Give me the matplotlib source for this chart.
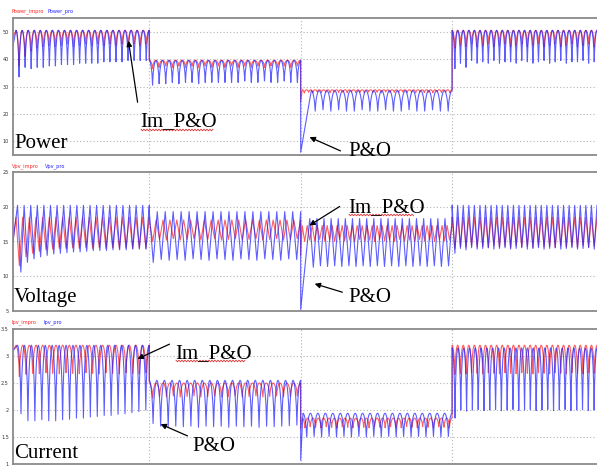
import numpy as np
import matplotlib
matplotlib.use("Agg")
import matplotlib.pyplot as plt
from matplotlib.lines import Line2D

# ---------------- data ----------------
seg_edges = [0.01, 0.1, 0.2, 0.3, 0.3957]   # time (s): irradiance steps at 0.1, 0.2, 0.3

# Power panel
power_impro_start = [48.0, None, 24.5, None]
power_impro_peak = [50.5, 39.6, 28.8, 50.5]
power_impro_settle = [0.002, 0.0, 0.001, 0.0]
power_impro_troughs = [
    [37.5, 41.0, 43.0, 44.0, 44.5, 45.0, 44.5, 45.0, 45.5, 44.5, 45.0, 45.5, 45.0, 45.5, 45.0, 45.5, 45.0, 45.5, 45.0, 45.5, 45.0, 45.5],
    [36.5, 37.0, 37.5, 37.0, 37.5, 37.0, 37.5, 37.0, 37.5, 37.0, 37.5, 37.0, 37.5, 37.0, 37.5, 37.0, 37.5, 37.0, 37.5, 37.0, 37.5, 37.0, 37.5],
    [27.6, 27.9, 27.7, 28.0, 27.8, 27.9, 27.7, 28.0, 27.8, 27.9, 27.7, 28.0, 27.8, 27.9, 27.7, 28.0, 27.8, 27.9, 27.7, 28.0,
     27.8, 27.9, 27.7, 28.0, 27.8, 27.9, 27.7, 28.0, 27.8, 27.9, 27.7, 28.0, 27.8, 27.9, 27.7],
    [44.0, 45.0, 44.5, 45.5, 44.5, 45.0, 45.5, 44.5, 45.0, 45.5, 44.5, 45.0, 45.5, 44.5, 45.0, 45.5, 44.5, 45.0, 45.5, 44.5, 45.0, 45.5, 44.5, 45.0, 45.5, 44.5],
]
power_pro_start = [45.0, None, 6.0, None]
power_pro_peak = [50.5, 39.5, 28.5, 50.5]
power_pro_settle = [0.002, 0.0, 0.007, 0.0]
power_pro_troughs = [
    [33.5, 37.0, 36.5, 37.0, 37.0, 37.5, 37.5, 38.0, 38.0, 38.0, 38.5, 38.5, 38.5, 38.5, 39.0, 39.0, 39.0, 39.0, 39.5, 39.5, 39.5, 39.5],
    [30.5, 31.0, 31.0, 31.5, 31.0, 31.5, 31.5, 31.0, 31.5, 31.5, 31.5, 31.5, 31.5, 31.5, 32.0, 31.5, 31.5, 32.0, 31.5, 31.5, 32.0, 31.5, 31.5],
    [21.0, 21.5, 21.0, 21.5, 21.0, 21.0, 21.5, 21.0, 21.0, 21.5, 21.0, 21.0, 21.5, 21.0, 21.0, 21.5, 21.0, 21.0],
    [36.5, 38.5, 37.0, 39.5, 38.5, 39.0, 38.5, 39.5, 38.5, 39.0, 39.0, 38.5, 39.5, 39.0, 38.5, 39.0, 39.5, 38.5, 39.0, 39.5, 38.5, 39.0, 39.0, 39.5, 38.5, 39.0],
]

# Voltage panel
vpv_impro_start = [15.0, None, 13.0, None]
vpv_impro_peak = [18.5, 18.1, 17.3, 18.5]
vpv_impro_settle = [0.002, 0.0, 0.001, 0.0]
vpv_impro_troughs = [
    [11.5, 12.8, 13.3, 13.6, 13.8, 13.9, 14.0, 14.0, 14.1, 14.0, 14.1, 14.0, 14.1, 14.0, 14.1, 14.0, 14.1, 14.0, 14.1, 14.0],
    [15.0, 15.3, 15.2, 15.4, 15.2, 15.3, 15.4, 15.2, 15.3, 15.4, 15.2, 15.3, 15.4, 15.2, 15.3, 15.4, 15.2, 15.3, 15.4, 15.2, 15.3, 15.4],
    [15.0, 15.2, 15.1, 15.3, 15.1, 15.2, 15.0, 15.3, 15.1, 15.2, 15.0, 15.3, 15.1, 15.2, 15.0,
     15.3, 15.1, 15.2, 15.0, 15.3, 15.1, 15.2, 15.0, 15.3, 15.1, 15.2, 15.0, 15.3, 15.1, 15.2],
    [14.0, 14.3, 14.2, 14.4, 14.2, 14.3, 14.1, 14.4, 14.2, 14.3, 14.1, 14.4, 14.2, 14.3, 14.1, 14.4, 14.2, 14.3, 14.1, 14.4, 14.2, 14.3, 14.1, 14.4, 14.2, 14.3],
]
vpv_pro_start = [15.0, None, 5.2, None]
vpv_pro_peak = [20.2, 19.3, 18.3, 20.2]
vpv_pro_settle = [0.003, 0.0, 0.006, 0.0]
vpv_pro_troughs = [
    [10.6, 12.0, 12.5, 12.8, 13.0, 13.2, 13.3, 13.4, 13.5, 13.5, 13.6, 13.7, 13.7, 13.7, 13.8, 13.8, 13.8, 13.9, 13.9, 13.9],
    [12.0, 12.4, 12.3, 12.4, 12.3, 12.5, 12.4, 12.3, 12.5, 12.4, 12.3, 12.5, 12.4, 12.3, 12.5, 12.4, 12.3, 12.5, 12.4],
    [11.3, 11.5, 11.4, 11.5, 11.4, 11.5, 11.4, 11.5, 11.4, 11.5, 11.4, 11.5, 11.4, 11.5, 11.4, 11.5, 11.4, 11.5, 11.4, 11.5],
    [13.3, 14.0, 13.8, 14.1, 13.9, 14.0, 14.1, 13.9, 14.0, 14.1, 13.9, 14.0, 14.1, 13.9, 14.0, 14.1, 13.9, 14.0, 14.1, 13.9, 14.0, 14.1, 13.9, 14.0, 14.1, 13.9],
]

# Current panel
ipv_impro_start = [3.1, None, 1.65, None]
ipv_impro_peak = [3.2, 2.5, 1.85, 3.2]
ipv_impro_settle = [0.002, 0.0, 0.001, 0.0]
ipv_impro_troughs = [
    [2.62, 2.66, 2.68, 2.67, 2.69, 2.68, 2.67, 2.69, 2.68, 2.67, 2.69, 2.68, 2.67, 2.69, 2.68, 2.67, 2.69, 2.68, 2.67, 2.69],
    [2.22, 2.25, 2.24, 2.26, 2.24, 2.25, 2.26, 2.24, 2.25, 2.26, 2.24, 2.25, 2.26, 2.24, 2.25, 2.26, 2.24, 2.25, 2.26, 2.24, 2.25, 2.26],
    [1.67, 1.69, 1.68, 1.67, 1.69, 1.68, 1.67, 1.69, 1.68, 1.67, 1.69, 1.68, 1.67, 1.69,
     1.68, 1.67, 1.69, 1.68, 1.67, 1.69, 1.68, 1.67, 1.69, 1.68, 1.67, 1.69, 1.68, 1.67],
    [2.66, 2.68, 2.67, 2.69, 2.68, 2.67, 2.69, 2.68, 2.67, 2.69, 2.68, 2.67, 2.69, 2.68, 2.67, 2.69, 2.68, 2.67, 2.69, 2.68, 2.67, 2.69, 2.68, 2.67, 2.69, 2.68],
]
ipv_pro_start = [3.1, None, 1.07, None]
ipv_pro_peak = [3.2, 2.55, 1.94, 3.15]
ipv_pro_settle = [0.003, 0.0, 0.0015, 0.0]
ipv_pro_troughs = [
    [1.93, 1.80, 1.80, 1.82, 1.80, 1.80, 1.82, 1.83, 1.85, 1.85, 1.87, 1.88, 1.90, 1.90, 1.92, 1.93, 1.95, 1.97, 2.00],
    [1.75, 1.70, 1.68, 1.70, 1.69, 1.70, 1.68, 1.70, 1.69, 1.70, 1.68, 1.70, 1.69, 1.70, 1.68, 1.70, 1.69, 1.70, 1.71, 1.72],
    [1.50, 1.51, 1.50, 1.51, 1.50, 1.51, 1.50, 1.51, 1.50, 1.51, 1.50, 1.51, 1.50, 1.51, 1.50, 1.51, 1.50, 1.51, 1.50, 1.51],
    [1.85, 2.00, 1.98, 2.00, 2.01, 1.99, 2.00, 2.01, 1.99, 2.00, 2.01, 1.99, 2.00, 2.01, 1.99, 2.00, 2.01, 1.99, 2.00, 2.01, 1.99, 2.00, 2.01, 1.99, 2.00],
]

power_ticks = [10, 20, 30, 40, 50]
vpv_ticks = [5, 10, 15, 20, 25]
ipv_ticks = [1, 1.5, 2, 2.5, 3, 3.5]

# ---------------- waveform construction from the read values ----------------
def build(starts, peaks, troughs, settle, shape, npts=12):
    ts, vs = [], []
    for k in range(len(peaks)):
        t0, t1 = seg_edges[k], seg_edges[k + 1]
        ta = t0 + settle[k]
        if starts[k] is not None:
            ts.append(t0); vs.append(starts[k])
        n = len(troughs[k])
        per = (t1 - ta) / n
        ph = np.linspace(0, 1, npts + 1)[:-1]
        if shape == "tri":
            f = np.abs(1 - 2 * ph)
        else:
            f = np.abs(np.cos(np.pi * ph)) ** 0.6
        for i, tr in enumerate(troughs[k]):
            ts.extend(ta + (i + ph) * per)
            vs.extend(tr + (peaks[k] - tr) * f)
        ts.append(t1); vs.append(peaks[k])
    return np.array(ts), np.array(vs)

W, H = 597, 467
fig = plt.figure(figsize=(W / 100, H / 100), dpi=100)

def fx(x):
    return x / W

def fy(y):
    return 1 - y / H

RED = "#ff2020"
BLUE = "#2020ff"
SPINE = "#8a8a8a"

panels = [
    dict(top=18, bot=155, ylim=(5, 55), ticks=power_ticks, grid=[10, 20, 30, 40, 50],
         red=(power_impro_start, power_impro_peak, power_impro_troughs, power_impro_settle),
         blue=(power_pro_start, power_pro_peak, power_pro_troughs, power_pro_settle),
         shape="arch", leg=("Power_impro", "Power_pro"), legy=11, legx2=48),
    dict(top=172, bot=311, ylim=(5, 25), ticks=vpv_ticks, grid=[10, 15, 20],
         red=(vpv_impro_start, vpv_impro_peak, vpv_impro_troughs, vpv_impro_settle),
         blue=(vpv_pro_start, vpv_pro_peak, vpv_pro_troughs, vpv_pro_settle),
         shape="tri", leg=("Vpv_impro", "Vpv_pro"), legy=166, legx2=45),
    dict(top=329, bot=464, ylim=(1, 3.5), ticks=ipv_ticks, grid=[1.5, 2, 2.5, 3],
         red=(ipv_impro_start, ipv_impro_peak, ipv_impro_troughs, ipv_impro_settle),
         blue=(ipv_pro_start, ipv_pro_peak, ipv_pro_troughs, ipv_pro_settle),
         shape="arch", leg=("Ipv_impro", "Ipv_pro"), legy=322, legx2=43),
]

axes = []
for p in panels:
    ax = fig.add_axes([fx(13), fy(p["bot"]), fx(W - 13), (p["bot"] - p["top"]) / H])
    axes.append(ax)
    tr_, vr_ = build(*p["red"], shape=p["shape"])
    tb_, vb_ = build(*p["blue"], shape=p["shape"])
    ax.plot(tr_, vr_, color=RED, lw=0.8, alpha=0.72)
    ax.plot(tb_, vb_, color=BLUE, lw=0.8, alpha=0.72)
    ax.set_xlim(seg_edges[0], seg_edges[-1])
    ax.set_ylim(*p["ylim"])
    ax.set_yticks(p["ticks"])
    ax.set_yticklabels([("%g" % v) for v in p["ticks"]])
    ax.set_xticks([])
    ax.tick_params(axis="y", length=0, pad=3, labelsize=3.5, labelcolor="#333333")
    for g in p["grid"]:
        ax.axhline(g, color="#b5b5b5", lw=0.8, ls=(0, (1, 2)), zorder=0)
    for tv in seg_edges[1:-1]:
        ax.axvline(tv, color="#b5b5b5", lw=0.8, ls=(0, (1, 2)), zorder=0)
    ax.spines["right"].set_visible(False)
    for s in ("left", "top", "bottom"):
        ax.spines[s].set_color(SPINE)
        ax.spines[s].set_linewidth(1.3)
    fig.text(fx(12), fy(p["legy"]), p["leg"][0], color=RED, fontsize=3.6, va="center", ha="left")
    fig.text(fx(p["legx2"]), fy(p["legy"]), p["leg"][1], color=BLUE, fontsize=3.6, va="center", ha="left")

SERIF = "Liberation Serif"
FS = 15

def label(x, ybase, s):
    fig.text(fx(x), fy(ybase), s, fontsize=FS, family=SERIF, ha="left", va="baseline")

def arrow(x0, y0, x1, y1):
    fig.add_artist(matplotlib.patches.FancyArrowPatch(
        (fx(x0), fy(y0)), (fx(x1), fy(y1)), transform=fig.transFigure,
        arrowstyle="-|>", mutation_scale=8, lw=0.9, color="black"))

def wavy(x0, x1, y):
    xs = np.arange(x0, x1 + 0.1, 1.5)
    ys = y + np.where(np.arange(len(xs)) % 2 == 0, -0.8, 0.8)
    fig.add_artist(Line2D(fx(xs), fy(ys), transform=fig.transFigure, color="#e03030", lw=0.6))

# panel names
label(14, 148, "Power")
label(14, 302, "Voltage")
label(14, 458, "Current")

# Power annotations
label(140, 126, "Im_P&O")
wavy(141, 214, 130)
arrow(138, 105, 128, 38)
label(348, 156, "P&O")
arrow(343, 152, 307, 136)

# Voltage annotations
label(348, 212, "Im_P&O")
wavy(349, 414, 215)
arrow(342, 205, 307, 227)
label(348, 302, "P&O")
arrow(345, 293, 312, 283)

# Current annotations
label(175, 358, "Im_P&O")
wavy(176, 246, 361)
arrow(172, 343, 135, 360)
label(192, 451, "P&O")
arrow(190, 437, 158, 423)

fig.savefig("out.png", dpi=100)
